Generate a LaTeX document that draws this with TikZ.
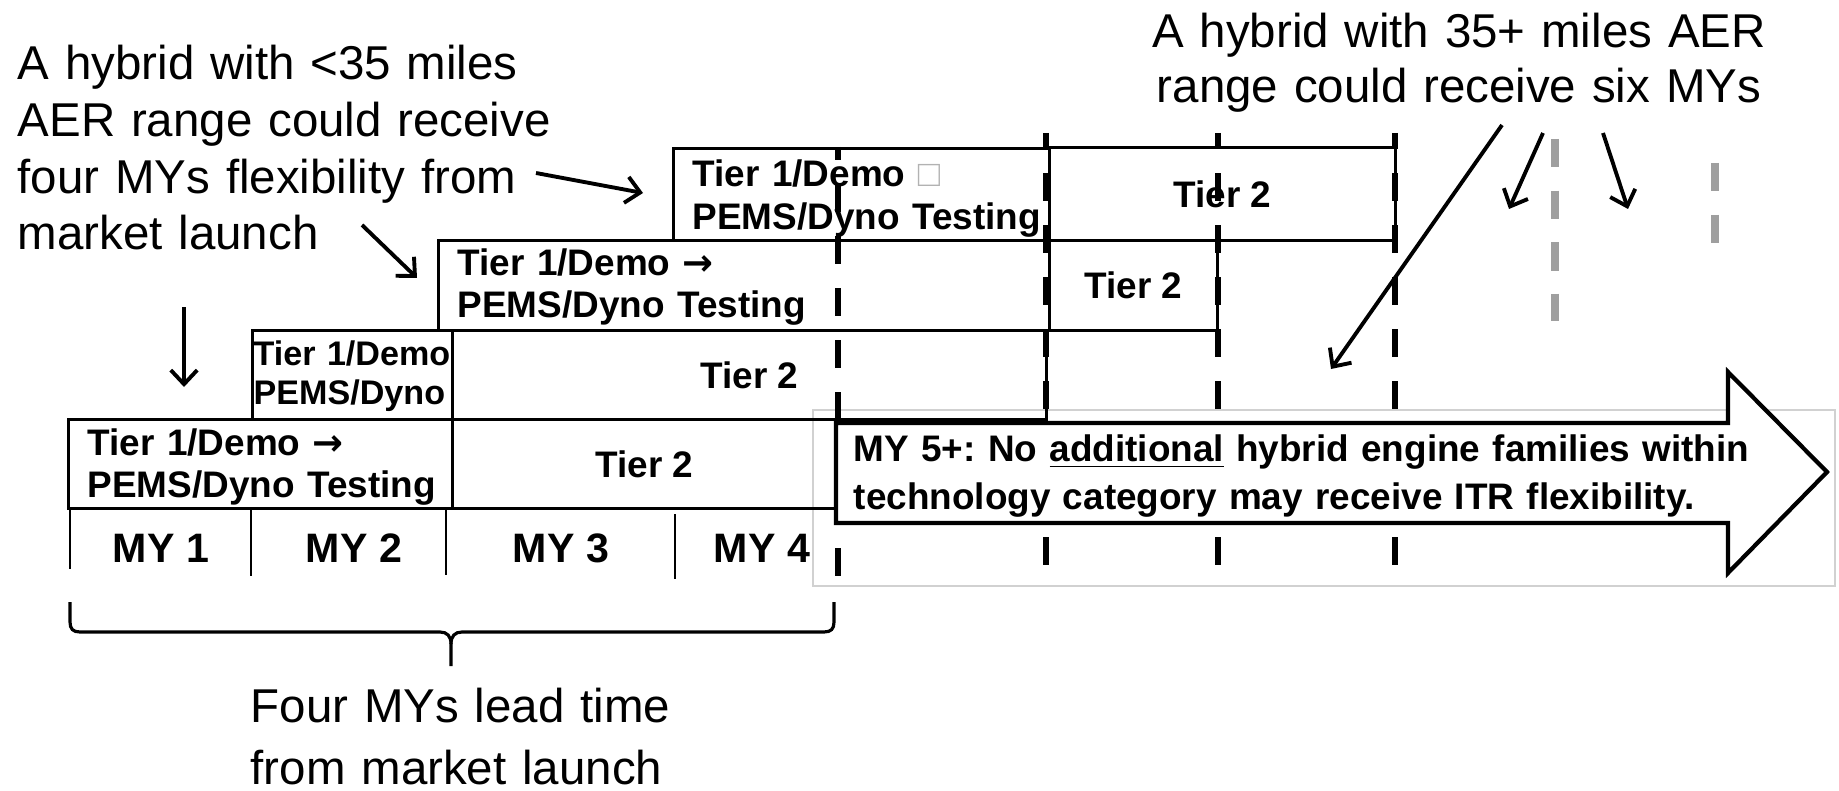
\documentclass[tikz,border=0pt]{standalone}
\usepackage{fontspec}
\setmainfont{Liberation Sans}
\newfontfamily\arrowfont{DejaVu Sans}
\newcommand{\tierarrow}{{\arrowfont\bfseries →}}
\usetikzlibrary{arrows.meta}
\frenchspacing
\begin{document}
\begin{tikzpicture}[x=0.01cm,y=-0.01cm,
  box/.style={draw,line width=0.75pt,inner sep=0pt,anchor=north west},
  tierlbl/.style={font=\fontsize{10.5}{11.95}\selectfont\bfseries},
  tiertxt/.style={font=\fontsize{10.5}{11.95}\selectfont\bfseries,inner sep=0pt,text width=3.6cm,align=left,anchor=base west},
  mylbl/.style={font=\fontsize{11.7}{14}\selectfont\bfseries,inner sep=0pt,anchor=base},
  note/.style={font=\fontsize{13.5}{16.1}\selectfont,inner sep=0pt,text width=6.6cm,align=left,anchor=base west},
  pointer/.style={-{Straight Barb[length=4pt,width=7.5pt]},line width=1.1pt},
  yearline/.style={line width=0.8pt},
  mydash/.style={line width=1.5pt,dash pattern=on 7.97pt off 6.83pt},
  graydash/.style={line width=2.1pt,gray!75,dash pattern=on 8.1pt off 6.55pt}]
\useasboundingbox (0,0) rectangle (1839,791);
\draw[black!18,line width=0.5pt] (813,410) rectangle (1835,586);
% rows of the schedule
\node[box,minimum width=3.84cm,minimum height=0.89cm] (r1a) at (67,418) {};
\node[box,tierlbl,minimum width=3.84cm,minimum height=0.89cm] (r1b) at (451,418) {Tier 2};
\node[box,minimum width=2.00cm,minimum height=0.89cm] (r2a) at (251,329) {};
\node[box,tierlbl,minimum width=5.94cm,minimum height=0.89cm] (r2b) at (451,329) {Tier 2};
\node[box,minimum width=6.11cm,minimum height=0.90cm] (r3a) at (437,239) {};
\node[box,tierlbl,minimum width=1.68cm,minimum height=0.90cm] (r3b) at (1048,239) {Tier 2};
\node[box,minimum width=3.76cm,minimum height=0.92cm] (r4a) at (672,147) {};
\node[box,tierlbl,minimum width=3.46cm,minimum height=0.93cm] (r4b) at (1048,146) {Tier 2};
\node[tiertxt] (r1t) at (87,455) {Tier 1/Demo \tierarrow\\PEMS/Dyno Testing};
\node[tiertxt,font=\fontsize{9.7}{11.1}\selectfont\bfseries] (r2t) at (253,365) {Tier 1/Demo\\PEMS/Dyno};
\node[tiertxt] (r3t) at (457,275) {Tier 1/Demo \tierarrow\\PEMS/Dyno Testing};
\node[tiertxt] (r4t) at (692,187) {Tier 1/Demo {\mdseries\color{gray!60}□}\\PEMS/Dyno Testing};
% model years
\foreach \x/\ya/\yb in {70/507/569,251/507/576,446/507/575,675/514/579}
  \draw[yearline] (\x,\ya) -- (\x,\yb);
\foreach \x/\n in {161/1,354/2,561/3,762/4}
  \node[mylbl] (my\n) at (\x,562) {MY \n};
\draw[mydash,dash phase=4.27pt] (838,147) -- (838,576);
\foreach \x in {1046,1218,1395}
  \draw[mydash,dash phase=3.41pt] (\x,133) -- (\x,565);
\draw[graydash] (1555,139) -- (1555,321);
\draw[graydash] (1715,163) -- (1715,243);
\draw[line width=1.2pt,fill=white,line join=miter] (836,423) -- (1728,423) -- (1728,372) -- (1827,472)
  -- (1728,573) -- (1728,523) -- (836,523) -- cycle;
\node[tiertxt,text width=9.5cm,font=\fontsize{10.5}{13.7}\selectfont\bfseries] (myfive) at (853,461)
  {MY 5+: No \underline{additional} hybrid engine families within\\technology category may receive ITR flexibility.};
% notes
\node[note] (lnote) at (17,80) {A hybrid with <35 miles\\AER range could receive\\four MYs flexibility from\\market launch};
\node[note,align=center,anchor=base,font=\fontsize{13.5}{15.6}\selectfont] (rnote) at (1459,48) {A hybrid with 35+ miles AER\\range could receive six MYs};
\node[note,font=\fontsize{13.5}{17.9}\selectfont] (bnote) at (250,722) {Four MYs lead time\\from market launch};
\coordinate (p1s) at (536,173); \coordinate (p1e) at (643,193);
\coordinate (p2s) at (362,225); \coordinate (p2e) at (417,278);
\coordinate (p3s) at (184,307); \coordinate (p3e) at (184,387);
\coordinate (p4s) at (1502,125); \coordinate (p4e) at (1331,369);
\coordinate (p5s) at (1543,133); \coordinate (p5e) at (1509,209);
\coordinate (p6s) at (1603,133); \coordinate (p6e) at (1628,209);
\draw[pointer] (p1s) -- (p1e);
\draw[pointer] (p2s) -- (p2e);
\draw[pointer] (p3s) -- (p3e);
\draw[pointer] (p4s) -- (p4e);
\draw[pointer] (p5s) -- (p5e);
\draw[pointer] (p6s) -- (p6e);
% brace
\draw[line width=0.9pt] (70,602) -- (70,622) .. controls (70,629) and (73,632) .. (80,632) -- (440,632)
  .. controls (447,632) and (451,636) .. (451,644) -- (451,666);
\draw[line width=0.9pt] (451,644) .. controls (451,636) and (455,632) .. (462,632) -- (824,632)
  .. controls (831,632) and (834,629) .. (834,622) -- (834,602);
\end{tikzpicture}
\end{document}
